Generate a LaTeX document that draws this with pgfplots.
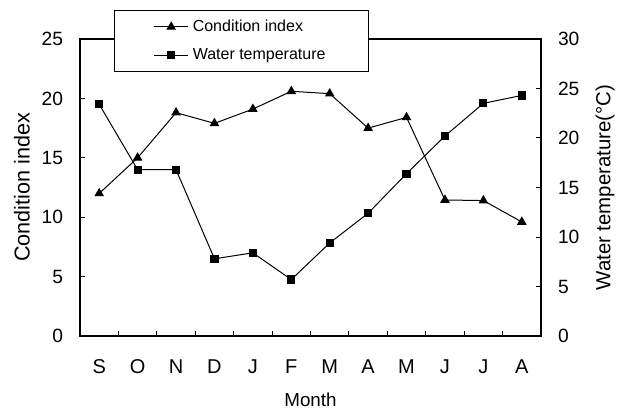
\documentclass[border=0pt]{standalone}
\usepackage{fontspec}
\setmainfont{Liberation Sans}
\usepackage{pgfplots}
\pgfplotsset{compat=1.18}

% Monthly condition index (left axis) and water temperature (right axis)
\pgfplotstableread{
m  ci    wt
0  12.0  23.4
1  15.0  16.8
2  18.8  16.8
3  17.9  7.8
4  19.1  8.4
5  20.6  5.7
6  20.4  9.4
7  17.5  12.4
8  18.4  16.4
9  11.45 20.2
10 11.4  23.5
11 9.6   24.3
}\monthly

\begin{document}
\begin{tikzpicture}
\pgfplotsset{
  every axis/.append style={
    scale only axis, width=230.5pt, height=148.5pt,
    at={(0,0)}, anchor=south west,
    xmin=-0.5, xmax=11.5,
    tick style={black, line width=0.5pt},
    major tick length=2.5pt, minor tick length=2.5pt,
    tick align=inside,
    tick label style={font=\fontsize{9.6}{11}\selectfont},
    axis line style={line width=0.6pt},
    /pgf/number format/assume math mode=true,
  },
  ciplot/.style={black, line width=0.5pt, mark=triangle*, mark size=2.3pt, mark options={solid}},
  wtplot/.style={black, line width=0.5pt, mark=square*, mark size=1.8pt, mark options={solid}},
}
% left axis: condition index, with the month axis
\begin{axis}[
  ymin=0, ymax=25, ytick={0,5,...,25},
  ytick pos=left,
  yticklabel style={xshift=-5pt},
  xtick={0,...,11},
  xticklabels={S,O,N,D,J,F,M,A,M,J,J,A},
  major x tick style={draw=none},
  minor xtick={0.5,1.5,...,10.5},
  xtick pos=bottom,
  xticklabel style={yshift=-8pt, font=\fontsize{10}{11}\selectfont, text height=7.2pt, text depth=0pt},
  xlabel={Month},
  xlabel style={font=\fontsize{9.4}{11}\selectfont, at={(axis description cs:0.5,-0.2155)}, anchor=center},
  ylabel={Condition index},
  ylabel style={font=\fontsize{10.8}{12}\selectfont, at={(axis description cs:-0.126,0.5)}, anchor=center},
]
\addplot[ciplot] table[x=m, y=ci] {\monthly};
\end{axis}
% right axis: water temperature, carrying the legend
\begin{axis}[
  axis x line=none,
  axis y line*=right,
  ymin=0, ymax=30, ytick={0,5,...,30},
  yticklabel style={xshift=5pt},
  ylabel={Water temperature(°C)},
  ylabel style={font=\fontsize{10.2}{12}\selectfont, at={(axis description cs:1.139,0.5)}, anchor=center, rotate=0},
  legend style={
    at={(0.0738,1.0976)}, anchor=north west,
    draw=black, line width=0.6pt, fill=white,
    font=\fontsize{8}{9.5}\selectfont,
    inner xsep=19.5pt, inner ysep=2.5pt,
    row sep=3pt,
    cells={anchor=west},
  },
  legend cell align=left,
]
\addlegendimage{ciplot}
\addlegendentry{Condition index}
\addplot[wtplot] table[x=m, y=wt] {\monthly};
\addlegendentry{Water temperature}
\end{axis}
\pgfresetboundingbox
\path[use as bounding box] (-40pt,-38pt) rectangle (270pt,168pt);
\end{tikzpicture}
\end{document}
